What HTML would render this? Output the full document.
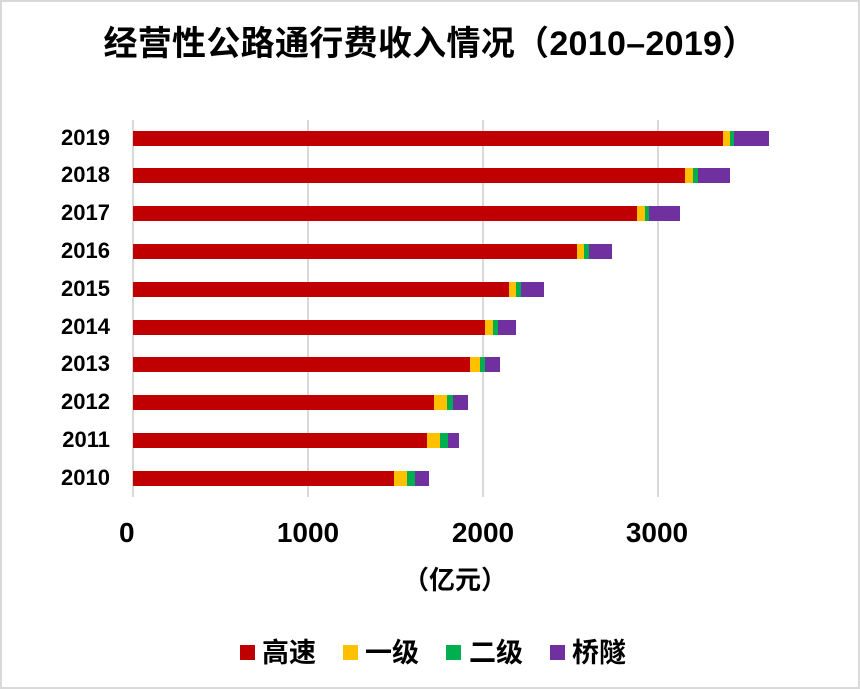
<!DOCTYPE html>
<html><head><meta charset="utf-8"><style>
body{margin:0;width:860px;height:689px;background:#fff;overflow:hidden;position:relative;font-family:"Liberation Sans","Noto Sans CJK SC",sans-serif;font-weight:bold;color:#000}
.frame{position:absolute;left:0;top:0;width:856px;height:685px;border:2px solid #d9d9d9}
.t{position:absolute;white-space:nowrap}
.g{position:absolute;top:120px;width:2px;height:377px;background:#d9d9d9}
.b{position:absolute;height:15px}
.sq{position:absolute;top:645px;width:15px;height:15px}
</style></head><body>
<div class="frame"></div>
<div class="t" style="left:0;width:860px;text-align:center;top:22px;font-size:34px;line-height:44px;letter-spacing:0.3px">经营性公路通行费收入情况（2010–2019）</div>
<div class="g" style="left:132px"></div>
<div class="g" style="left:307px"></div>
<div class="g" style="left:482px"></div>
<div class="g" style="left:657px"></div>
<div id="bars"></div>
<div class="t" style="left:119px;top:517px;font-size:28px;line-height:32px">0</div>
<div class="t" style="left:254px;width:108px;text-align:center;top:517px;font-size:28px;line-height:32px">1000</div>
<div class="t" style="left:429px;width:108px;text-align:center;top:517px;font-size:28px;line-height:32px">2000</div>
<div class="t" style="left:603px;width:108px;text-align:center;top:517px;font-size:28px;line-height:32px">3000</div>
<div class="t" style="left:390px;width:130px;text-align:center;top:564px;font-size:26px;line-height:32px">（亿元）</div>
<div class="sq" style="left:240px;background:#c00000"></div><div class="t" style="left:262px;top:636px;font-size:27px;line-height:34px">高速</div>
<div class="sq" style="left:343px;background:#ffc000"></div><div class="t" style="left:365px;top:636px;font-size:27px;line-height:34px">一级</div>
<div class="sq" style="left:446px;background:#00b050"></div><div class="t" style="left:469px;top:636px;font-size:27px;line-height:34px">二级</div>
<div class="sq" style="left:550px;background:#7030a0"></div><div class="t" style="left:572px;top:636px;font-size:27px;line-height:34px">桥隧</div>
<script>
var d=[[2019,131,723,730,734,769],[2018,168,685,693,698,730],[2017,206,637,645,649,680],[2016,244,577,584,589,612],[2015,282,509,516,521,544],[2014,320,485,493,498,516],[2013,357,470,480,485,500],[2012,395,434,447,453,468],[2011,433,427,440,448,459],[2010,471,394,407,415,429]];
var c=['#c00000','#ffc000','#00b050','#7030a0'],h='';
d.forEach(function(r){var x=133;for(var i=0;i<4;i++){h+='<div class="b" style="top:'+r[1]+'px;left:'+x+'px;width:'+(r[i+2]-x)+'px;background:'+c[i]+'"></div>';x=r[i+2];}
h+='<div class="t" style="left:40px;width:70px;text-align:right;top:'+(r[1]-6)+'px;font-size:22px;line-height:26px">'+r[0]+'</div>';});
document.getElementById('bars').innerHTML=h;
</script>
</body></html>
